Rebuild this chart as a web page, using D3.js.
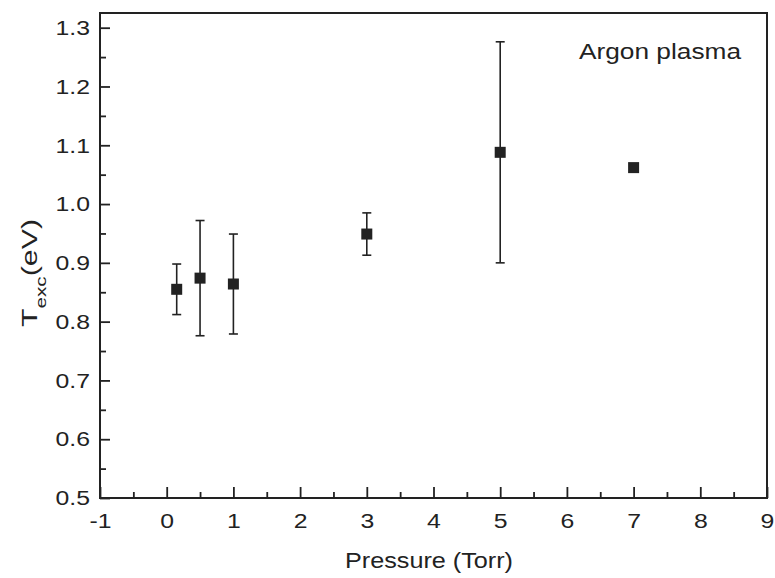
<!DOCTYPE html>
<html>
<head>
<meta charset="utf-8">
<script src="https://cdn.jsdelivr.net/npm/d3@7"></script>
<style>
  body { margin: 0; background: #fff; }
  text { font-family: "Liberation Sans", Arial, sans-serif; fill: #222; }
</style>
</head>
<body>
<svg id="chart"></svg>
<script>
// data
const pressure = [0.15, 0.5, 1, 3, 5, 7];
const texc     = [0.855, 0.874, 0.864, 0.949, 1.088, 1.062];
const texcErr  = [0.043, 0.098, 0.085, 0.036, 0.188, 0];
const xTicks = [-1, 0, 1, 2, 3, 4, 5, 6, 7, 8, 9];
const yTicks = [0.5, 0.6, 0.7, 0.8, 0.9, 1.0, 1.1, 1.2, 1.3];
const xMinor = [-0.5, 0.5, 1.5, 2.5, 3.5, 4.5, 5.5, 6.5, 7.5, 8.5];
const yMinor = [0.55, 0.65, 0.75, 0.85, 0.95, 1.05, 1.15, 1.25];

const width = 775, height = 578;
const margin = {top: 13, right: 8, bottom: 80, left: 100};
const innerW = width - margin.left - margin.right;
const innerH = height - margin.top - margin.bottom;
const ink = '#222';

const svg = d3.select('#chart')
    .attr('width', width)
    .attr('height', height);

const chart = svg.append('g')
    .attr('transform', `translate(${margin.left}, ${margin.top})`);

const xscale = d3.scaleLinear().domain([-1, 9]).range([0, innerW]);
const yscale = d3.scaleLinear().domain([0.5, 1.325]).range([innerH, 0]);

const sx = 1.18; // the scanned glyphs are wider than Arial

// minor ticks first
chart.append('g')
    .attr('transform', `translate(0, ${innerH})`)
    .call(d3.axisBottom(xscale).tickValues(xMinor).tickSize(-6).tickFormat(''))
    .call(g => g.select('.domain').remove());
chart.append('g')
    .call(d3.axisLeft(yscale).tickValues(yMinor).tickSize(-6).tickFormat(''))
    .call(g => g.select('.domain').remove());

// major ticks and labels (plain hyphen for -1, as in the original)
const xaxisGroup = chart.append('g')
    .attr('transform', `translate(0, ${innerH})`)
    .call(d3.axisBottom(xscale).tickValues(xTicks).tickSize(-11).tickPadding(15).tickFormat(d => String(d)));
xaxisGroup.select('.domain').remove();
xaxisGroup.selectAll('text')
    .attr('transform', `scale(${sx},1)`);

const yaxisGroup = chart.append('g')
    .call(d3.axisLeft(yscale).tickValues(yTicks).tickSize(-10).tickPadding(10).tickFormat(d => d.toFixed(1)));
yaxisGroup.select('.domain').remove();
yaxisGroup.selectAll('text')
    .attr('x', -10 / sx)
    .attr('transform', `scale(${sx},1)`);

chart.selectAll('.tick line').attr('stroke', ink).attr('stroke-width', 1.8);
chart.selectAll('.tick text')
    .attr('fill', ink)
    .style('font-size', '21px')
    .style('font-family', '"Liberation Sans", Arial, sans-serif');

// frame
chart.append('rect')
    .attr('width', innerW)
    .attr('height', innerH)
    .attr('fill', 'none')
    .attr('stroke', ink)
    .attr('stroke-width', 2);

const points = pressure.map((p, i) => ({p: p, t: texc[i], e: texcErr[i]}));

// error bars
const bars = chart.append('g').selectAll('g')
    .data(points.filter(d => d.e > 0))
    .join('g')
    .attr('stroke', ink)
    .attr('stroke-width', 1.6);
bars.append('line')
    .attr('x1', d => xscale(d.p)).attr('x2', d => xscale(d.p))
    .attr('y1', d => yscale(d.t - d.e)).attr('y2', d => yscale(d.t + d.e));
bars.append('line')
    .attr('x1', d => xscale(d.p) - 4.5).attr('x2', d => xscale(d.p) + 4.5)
    .attr('y1', d => yscale(d.t + d.e)).attr('y2', d => yscale(d.t + d.e));
bars.append('line')
    .attr('x1', d => xscale(d.p) - 4.5).attr('x2', d => xscale(d.p) + 4.5)
    .attr('y1', d => yscale(d.t - d.e)).attr('y2', d => yscale(d.t - d.e));

// square markers
const size = 11;
chart.append('g').selectAll('rect')
    .data(points)
    .join('rect')
    .attr('x', d => xscale(d.p) - size / 2)
    .attr('y', d => yscale(d.t) - size / 2)
    .attr('width', size)
    .attr('height', size)
    .attr('fill', ink);

// labels
chart.append('text')
    .attr('x', 479)
    .attr('y', 46)
    .attr('textLength', 162)
    .attr('lengthAdjust', 'spacingAndGlyphs')
    .style('font-size', '22px')
    .text('Argon plasma');

svg.append('text')
    .attr('x', 345)
    .attr('y', 568)
    .attr('textLength', 168)
    .attr('lengthAdjust', 'spacingAndGlyphs')
    .style('font-size', '22px')
    .text('Pressure (Torr)');

const ylab = svg.append('text')
    .attr('transform', 'translate(37, 273) rotate(-90) scale(1.38,1)')
    .attr('text-anchor', 'middle')
    .style('font-size', '22px');
ylab.append('tspan').text('T');
ylab.append('tspan').attr('dy', 9).style('font-size', '15px').text('exc');
ylab.append('tspan').attr('dy', -9).text('(eV)');
</script>
</body>
</html>
